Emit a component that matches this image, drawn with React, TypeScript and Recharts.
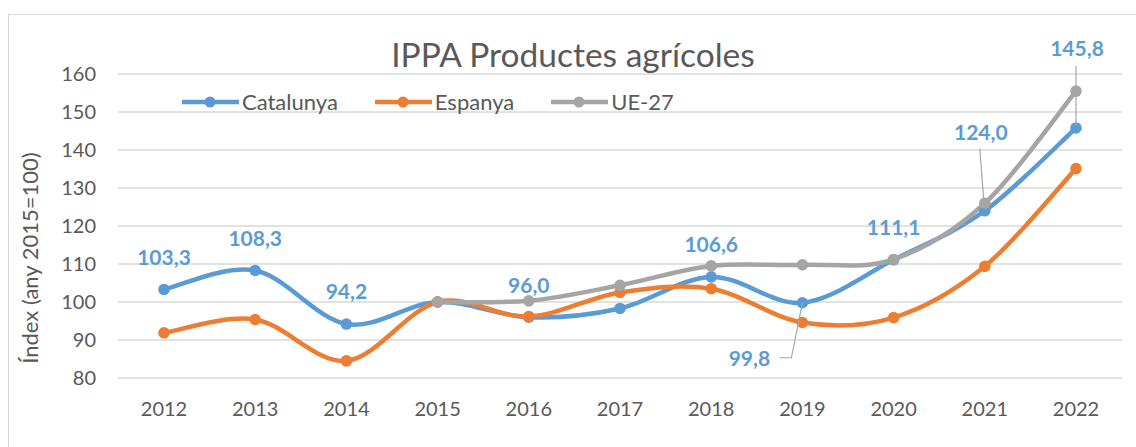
import React from "react";
import { LineChart, Line, XAxis, YAxis, CartesianGrid, LabelList } from "recharts";

const years = ["2012", "2013", "2014", "2015", "2016", "2017", "2018", "2019", "2020", "2021", "2022"];
const catalunya = [103.3, 108.3, 94.2, 100.0, 96.0, 98.3, 106.6, 99.8, 111.1, 124.0, 145.8];
const espanya = [91.9, 95.4, 84.5, 100.0, 96.2, 102.5, 103.5, 94.6, 95.9, 109.4, 135.1];
const ue27 = [null, null, null, 100.0, 100.3, 104.4, 109.5, 109.8, 111.2, 126.0, 155.5];
const yTicks = [80, 90, 100, 110, 120, 130, 140, 150, 160];
const hiddenLabelYears = ["2015", "2017"];

const BLUE = "#5B9BD5";
const ORANGE = "#ED7D31";
const GREY = "#A5A5A5";
const TEXT = "#595959";
const FONT = "Lato, 'Open Sans', sans-serif";

const series = [
  { key: "catalunya", name: "Catalunya", color: BLUE },
  { key: "espanya", name: "Espanya", color: ORANGE },
  { key: "ue27", name: "UE-27", color: GREY },
];

const chartData = years.map((year, i) => ({
  year,
  catalunya: catalunya[i],
  espanya: espanya[i],
  ue27: ue27[i],
}));

// label placement relative to the point (default: centred above)
const labelPlacement: Record<string, { dx: number; dy: number; leader?: number[][] }> = {
  "2019": { dx: -53, dy: 56, leader: [[-23, 55], [-11, 55], [0, 0]] },
  "2021": { dx: -4, dy: -78, leader: [[-5, -62], [-1, -10]] },
  "2022": { dx: 1, dy: -79, leader: [[0, -62], [0, -2]] },
};

// Excel-like smoothing (Catmull-Rom style bezier)
const smoothCurve = (context: any) => {
  let pts: number[][] = [];
  return {
    areaStart() {},
    areaEnd() {},
    lineStart() {
      pts = [];
    },
    point(x: number, y: number) {
      pts.push([+x, +y]);
    },
    lineEnd() {
      if (!pts.length) return;
      context.moveTo(pts[0][0], pts[0][1]);
      const k = 1 / 6;
      for (let i = 0; i < pts.length - 1; i++) {
        const p0 = pts[Math.max(i - 1, 0)];
        const p1 = pts[i];
        const p2 = pts[i + 1];
        const p3 = pts[Math.min(i + 2, pts.length - 1)];
        context.bezierCurveTo(
          p1[0] + (p2[0] - p0[0]) * k,
          p1[1] + (p2[1] - p0[1]) * k,
          p2[0] - (p3[0] - p1[0]) * k,
          p2[1] - (p3[1] - p1[1]) * k,
          p2[0],
          p2[1]
        );
      }
    },
  };
};

const renderLabel = (props: any) => {
  const { x, y, value, index } = props;
  const year = years[index];
  if (value == null || hiddenLabelYears.includes(year)) return null;
  const place = labelPlacement[year] ?? { dx: 0, dy: -32 };
  const text = Number(value).toFixed(1).replace(".", ",");
  return (
    <g key={`lbl-${year}`}>
      {place.leader && (
        <polyline
          points={place.leader.map(([lx, ly]) => `${x + lx},${y + ly}`).join(" ")}
          fill="none"
          stroke="#A6A6A6"
          strokeWidth={1.2}
        />
      )}
      <text
        x={x + place.dx}
        y={y + place.dy}
        dy="0.35em"
        textAnchor="middle"
        fill={BLUE}
        fontSize={21}
        fontWeight="bold"
        fontFamily={FONT}
      >
        {text}
      </text>
    </g>
  );
};

function ChartLegend() {
  return (
    <div
      style={{
        position: "absolute",
        left: 173,
        top: 75,
        display: "flex",
        alignItems: "center",
        gap: 37,
        height: 24,
      }}
    >
      {series.map((s) => (
        <div key={s.key} style={{ display: "flex", alignItems: "center" }}>
          <svg width={57} height={14} style={{ marginRight: 3 }}>
            <line x1={0} y1={7} x2={57} y2={7} stroke={s.color} strokeWidth={4.5} strokeLinecap="round" />
            <circle cx={28} cy={7} r={5.5} fill={s.color} />
          </svg>
          <span style={{ fontSize: 22, color: TEXT, lineHeight: "24px" }}>{s.name}</span>
        </div>
      ))}
    </div>
  );
}

export default function App() {
  return (
    <div
      style={{
        position: "fixed",
        left: 8,
        top: 14,
        width: 1130,
        height: 440,
        border: "1px solid #D9D9D9",
        boxSizing: "border-box",
        background: "#fff",
        fontFamily: FONT,
      }}
    >
      <LineChart
        width={1126}
        height={432}
        data={chartData}
        margin={{ top: 59, right: 13, bottom: 29, left: 0 }}
      >
        <CartesianGrid vertical={false} stroke="#D9D9D9" strokeWidth={1.3} />
        <XAxis
          dataKey="year"
          axisLine={false}
          tickLine={false}
          tickSize={0}
          tickMargin={24}
          height={40}
          padding={{ left: 46, right: 46 }}
          tick={{ fontSize: 20, fill: TEXT }}
        />
        <YAxis
          domain={[80, 160]}
          ticks={yTicks}
          axisLine={false}
          tickLine={false}
          tickSize={0}
          tickMargin={22}
          width={109}
          tick={{ fontSize: 20, fill: TEXT }}
        />
        {series.map((s) => (
          <Line
            key={s.key}
            dataKey={s.key}
            name={s.name}
            type={smoothCurve as any}
            stroke={s.color}
            strokeWidth={4.5}
            dot={{ r: 5.8, fill: s.color, stroke: s.color, strokeWidth: 0 }}
            activeDot={false}
            isAnimationActive={false}
          />
        ))}
        <Line
          dataKey="catalunya"
          legendType="none"
          stroke="none"
          dot={false}
          activeDot={false}
          isAnimationActive={false}
        >
          <LabelList dataKey="catalunya" content={renderLabel} />
        </Line>
      </LineChart>
      <ChartLegend />
      <svg
        width={1126}
        height={432}
        style={{ position: "absolute", left: 0, top: 0, pointerEvents: "none" }}
      >
        <text x={564} y={52} textAnchor="middle" fontSize={33.5} fill={TEXT} fontFamily={FONT}>
          IPPA Productes agrícoles
        </text>
        <text
          x={21}
          y={243}
          transform="rotate(-90 21 243)"
          textAnchor="middle"
          dy="0.35em"
          fontSize={22}
          fill={TEXT}
          fontFamily={FONT}
        >
          Índex (any 2015=100)
        </text>
      </svg>
    </div>
  );
}
